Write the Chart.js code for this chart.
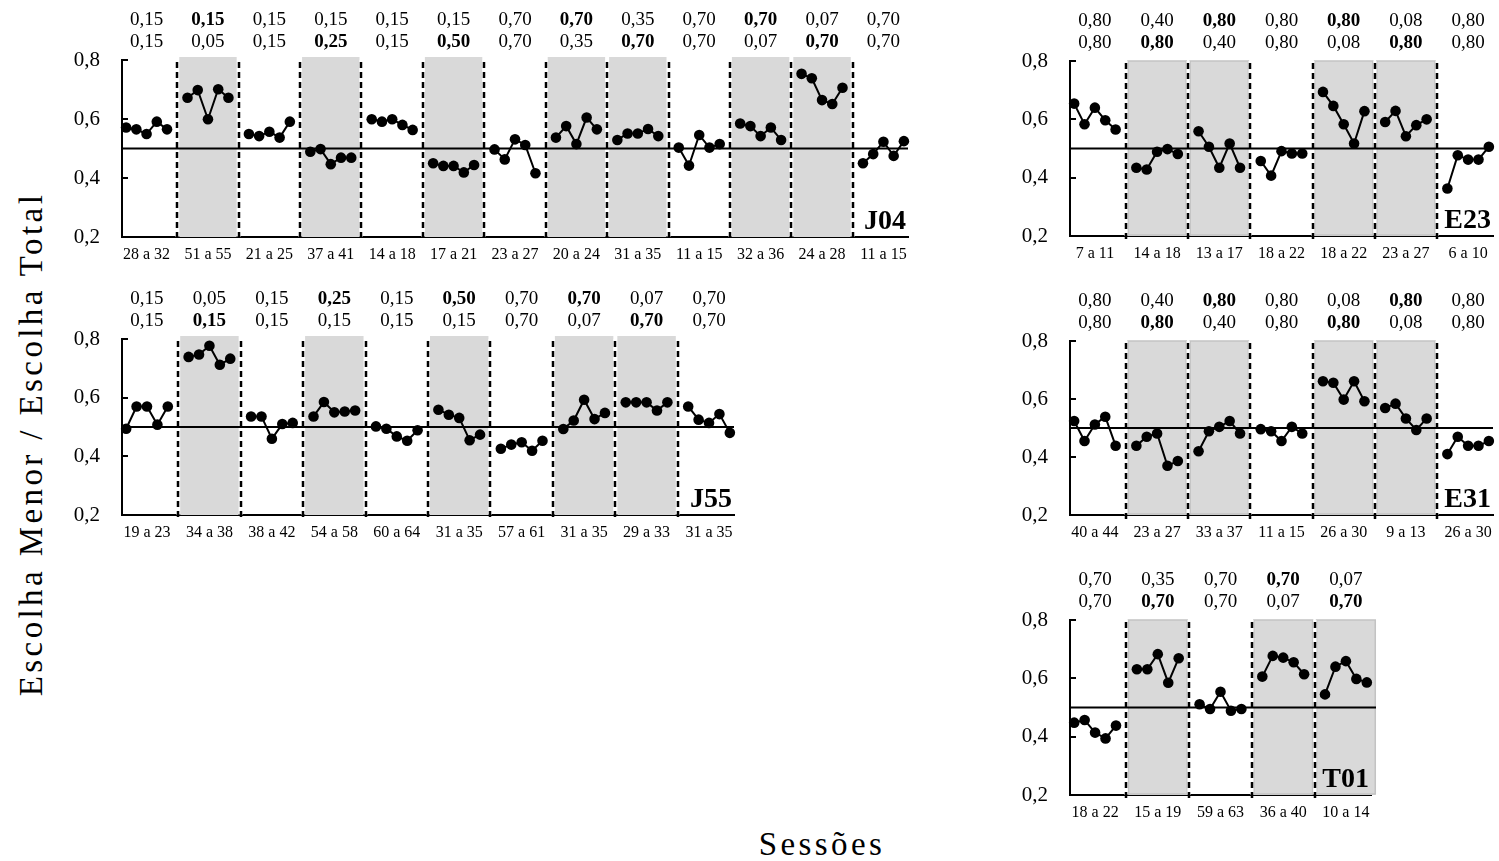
<!DOCTYPE html>
<html>
<head>
<meta charset="utf-8">
<script src="https://cdn.jsdelivr.net/npm/chart.js@4.4.1/dist/chart.umd.min.js"></script>
<style>
  html, body { margin: 0; padding: 0; background: #fff; }
  body { width: 1499px; height: 861px; position: relative; overflow: hidden; font-family: "Liberation Serif", "Times New Roman", serif; }
  canvas { position: absolute; }
  .ytitle { position: absolute; left: 31px; top: 444px; transform: translate(-50%, -50%) rotate(-90deg); white-space: nowrap; font-size: 33px; letter-spacing: 3.4px; color: #000; }
  .xtitle { position: absolute; left: 822px; top: 844px; transform: translate(-50%, -50%); white-space: nowrap; font-size: 33px; letter-spacing: 3.4px; color: #000; }
</style>
</head>
<body>
<canvas id="j04"></canvas>
<canvas id="j55"></canvas>
<canvas id="e23"></canvas>
<canvas id="e31"></canvas>
<canvas id="t01"></canvas>
<div class="ytitle">Escolha Menor / Escolha Total</div>
<div class="xtitle">Sessões</div>

<script>
// ---- J04 ----
const j04Sessions = ["28 a 32", "51 a 55", "21 a 25", "37 a 41", "14 a 18", "17 a 21", "23 a 27", "20 a 24", "31 a 35", "11 a 15", "32 a 36", "24 a 28", "11 a 15"];
const j04Values = [
    [0.571, 0.565, 0.549, 0.591, 0.565],
    [0.672, 0.698, 0.599, 0.701, 0.672],
    [0.549, 0.542, 0.557, 0.537, 0.591],
    [0.489, 0.498, 0.447, 0.469, 0.469],
    [0.599, 0.591, 0.599, 0.580, 0.563],
    [0.450, 0.441, 0.441, 0.419, 0.444],
    [0.497, 0.463, 0.531, 0.512, 0.416],
    [0.537, 0.576, 0.515, 0.605, 0.565],
    [0.529, 0.551, 0.551, 0.566, 0.542],
    [0.503, 0.442, 0.546, 0.503, 0.515],
    [0.585, 0.576, 0.542, 0.571, 0.529],
    [0.753, 0.738, 0.664, 0.651, 0.706],
    [0.450, 0.481, 0.523, 0.475, 0.525]
];
const j04TopA = ["0,15", "0,15", "0,15", "0,15", "0,15", "0,15", "0,70", "0,70", "0,35", "0,70", "0,70", "0,07", "0,70"];
const j04TopB = ["0,15", "0,05", "0,15", "0,25", "0,15", "0,50", "0,70", "0,35", "0,70", "0,70", "0,07", "0,70", "0,70"];
const j04Bold = [0, 1, 0, 2, 0, 2, 0, 1, 2, 0, 1, 2, 0];   // 1 = upper number bold, 2 = lower number bold
const j04Shaded = [0, 1, 0, 1, 0, 1, 0, 1, 1, 0, 1, 1, 0];

// ---- J55 ----
const j55Sessions = ["19 a 23", "34 a 38", "38 a 42", "54 a 58", "60 a 64", "31 a 35", "57 a 61", "31 a 35", "29 a 33", "31 a 35"];
const j55Values = [
    [0.494, 0.570, 0.570, 0.508, 0.570],
    [0.739, 0.747, 0.777, 0.712, 0.733],
    [0.536, 0.536, 0.460, 0.510, 0.514],
    [0.536, 0.585, 0.550, 0.553, 0.556],
    [0.502, 0.494, 0.468, 0.453, 0.489],
    [0.559, 0.542, 0.531, 0.455, 0.474],
    [0.426, 0.440, 0.448, 0.419, 0.453],
    [0.493, 0.522, 0.593, 0.527, 0.548],
    [0.584, 0.584, 0.584, 0.556, 0.584],
    [0.570, 0.525, 0.514, 0.544, 0.480]
];
const j55TopA = ["0,15", "0,05", "0,15", "0,25", "0,15", "0,50", "0,70", "0,70", "0,07", "0,70"];
const j55TopB = ["0,15", "0,15", "0,15", "0,15", "0,15", "0,15", "0,70", "0,07", "0,70", "0,70"];
const j55Bold = [0, 2, 0, 1, 0, 1, 0, 1, 2, 0];
const j55Shaded = [0, 1, 0, 1, 0, 1, 0, 1, 1, 0];

// ---- E23 ----
const e23Sessions = ["7 a 11", "14 a 18", "13 a 17", "18 a 22", "18 a 22", "23 a 27", "6 a 10"];
const e23Values = [
    [0.654, 0.583, 0.640, 0.597, 0.565],
    [0.434, 0.428, 0.489, 0.498, 0.481],
    [0.559, 0.506, 0.434, 0.517, 0.434],
    [0.457, 0.407, 0.491, 0.483, 0.483],
    [0.694, 0.646, 0.583, 0.517, 0.628],
    [0.591, 0.629, 0.542, 0.580, 0.600],
    [0.363, 0.477, 0.462, 0.462, 0.506]
];
const e23TopA = ["0,80", "0,40", "0,80", "0,80", "0,80", "0,08", "0,80"];
const e23TopB = ["0,80", "0,80", "0,40", "0,80", "0,08", "0,80", "0,80"];
const e23Bold = [0, 2, 1, 0, 1, 2, 0];
const e23Shaded = [0, 1, 1, 0, 1, 1, 0];

// ---- E31 ----
const e31Sessions = ["40 a 44", "23 a 27", "33 a 37", "11 a 15", "26 a 30", "9 a 13", "26 a 30"];
const e31Values = [
    [0.524, 0.455, 0.512, 0.539, 0.439],
    [0.439, 0.470, 0.481, 0.370, 0.386],
    [0.420, 0.489, 0.504, 0.524, 0.481],
    [0.496, 0.489, 0.455, 0.504, 0.481],
    [0.661, 0.656, 0.598, 0.661, 0.592],
    [0.569, 0.584, 0.533, 0.493, 0.533],
    [0.410, 0.470, 0.439, 0.439, 0.455]
];
const e31TopA = ["0,80", "0,40", "0,80", "0,80", "0,08", "0,80", "0,80"];
const e31TopB = ["0,80", "0,80", "0,40", "0,80", "0,80", "0,08", "0,80"];
const e31Bold = [0, 2, 1, 0, 2, 1, 0];
const e31Shaded = [0, 1, 1, 0, 1, 1, 0];

// ---- T01 ----
const t01Sessions = ["18 a 22", "15 a 19", "59 a 63", "36 a 40", "10 a 14"];
const t01Values = [
    [0.448, 0.457, 0.414, 0.394, 0.438],
    [0.631, 0.631, 0.683, 0.585, 0.669],
    [0.511, 0.495, 0.554, 0.489, 0.495],
    [0.606, 0.677, 0.671, 0.655, 0.614],
    [0.545, 0.640, 0.659, 0.598, 0.586]
];
const t01TopA = ["0,70", "0,35", "0,70", "0,70", "0,07"];
const t01TopB = ["0,70", "0,70", "0,70", "0,07", "0,70"];
const t01Bold = [0, 2, 0, 1, 2];
const t01Shaded = [0, 1, 0, 1, 1];

const yTicks = [0.2, 0.4, 0.6, 0.8];
const refLevel = 0.5;

const FONT = '"Liberation Serif", "Times New Roman", serif';
const SLOTS = 6; // 5 sessions + 1 gap per block

const panelDecor = {
    id: 'panelDecor',
    beforeDatasetsDraw(chart, args, opts) {
        const p = opts.panel;
        const { ctx, chartArea: a } = chart;
        const x = chart.scales.x, y = chart.scales.y;
        const top = y.getPixelForValue(0.8);
        const bot = y.getPixelForValue(0.2);
        ctx.save();
        p.shaded.forEach((s, g) => {
            if (!s) return;
            const x0 = x.getPixelForValue(g * SLOTS - 1) + 2;
            const x1 = x.getPixelForValue(g * SLOTS + 5) - 2;
            ctx.fillStyle = '#d9d9d9';
            ctx.fillRect(x0, top - p.shadeLift, x1 - x0, bot - top + p.shadeLift);
            if (p.shadeEdge) {
                ctx.strokeStyle = '#c3c3c3';
                ctx.lineWidth = 1.5;
                ctx.strokeRect(x0, top - p.shadeLift, x1 - x0, bot - top + p.shadeLift - 1);
            }
        });
        for (let g = 1; g < p.sessions.length; g++) {
            const xp = Math.round(x.getPixelForValue(g * SLOTS - 1));
            ctx.setLineDash([]);
            ctx.strokeStyle = '#fff';
            ctx.lineWidth = 3;
            ctx.beginPath(); ctx.moveTo(xp, top); ctx.lineTo(xp, bot); ctx.stroke();
            ctx.setLineDash([6, 4]);
            ctx.strokeStyle = '#000';
            ctx.lineWidth = 2.5;
            ctx.beginPath(); ctx.moveTo(xp, top + 2); ctx.lineTo(xp, bot + 4); ctx.stroke();
        }
        ctx.setLineDash([]);
        const yr = y.getPixelForValue(refLevel);
        ctx.strokeStyle = '#000';
        ctx.lineWidth = 2;
        ctx.beginPath(); ctx.moveTo(a.left, yr); ctx.lineTo(a.right + p.refExtra, yr); ctx.stroke();
        ctx.restore();
    },
    afterDraw(chart, args, opts) {
        const p = opts.panel;
        const { ctx, chartArea: a } = chart;
        const x = chart.scales.x, y = chart.scales.y;
        const top = y.getPixelForValue(0.8);
        const bot = y.getPixelForValue(0.2);
        ctx.save();
        ctx.fillStyle = '#000';
        ctx.textAlign = 'center';
        ctx.textBaseline = 'middle';
        p.sessions.forEach((_, g) => {
            const cx = x.getPixelForValue(g * SLOTS + 2);
            ctx.font = (p.bold[g] === 1 ? 'bold ' : '') + '19px ' + FONT;
            ctx.fillText(p.topA[g], cx, top - 40);
            ctx.font = (p.bold[g] === 2 ? 'bold ' : '') + '19px ' + FONT;
            ctx.fillText(p.topB[g], cx, top - 18);
        });
        // inward ticks on the y axis
        ctx.strokeStyle = '#000';
        ctx.lineWidth = 2;
        yTicks.slice(1).forEach(v => {
            const yp = Math.round(y.getPixelForValue(v));
            ctx.beginPath(); ctx.moveTo(a.left, yp); ctx.lineTo(a.left + 6, yp); ctx.stroke();
        });
        ctx.font = 'bold 28px ' + FONT;
        ctx.textAlign = 'right';
        ctx.textBaseline = 'alphabetic';
        ctx.fillText(p.name, a.right - 2, bot - 8);
        ctx.restore();
    }
};

function drawPanel(id, p, box) {
    const el = document.getElementById(id);
    const w = box.R - box.L + 82, h = box.B - box.T + 96;
    el.width = w; el.height = h;
    el.style.left = (box.L - 70) + 'px';
    el.style.top = (box.T - 60) + 'px';
    el.style.width = w + 'px';
    el.style.height = h + 'px';

    const datasets = p.values.map((vals, g) => ({
        data: vals.map((v, i) => ({ x: g * SLOTS + i, y: v })),
        borderColor: '#000',
        backgroundColor: '#000',
        pointBackgroundColor: '#000',
        pointBorderWidth: 0,
        pointRadius: 5.3,
        borderWidth: 2,
        tension: 0,
        clip: false
    }));
    const maxX = p.sessions.length * SLOTS - 2 + 0.4;

    return new Chart(el.getContext('2d'), {
        type: 'line',
        data: { datasets: datasets },
        options: {
            responsive: false, animation: false, events: [],
            layout: { padding: { top: 60, right: 12, bottom: 0, left: 0 } },
            plugins: {
                legend: { display: false },
                tooltip: { enabled: false },
                panelDecor: { panel: p }
            },
            scales: {
                x: {
                    type: 'linear', min: -0.4, max: maxX,
                    grid: { display: true, drawOnChartArea: false, drawTicks: false },
                    border: { display: true, color: '#000', width: 2 },
                    afterBuildTicks: s => { s.ticks = p.sessions.map((_, g) => ({ value: g * SLOTS + 2 })); },
                    afterFit: s => { s.height = 36; },
                    ticks: {
                        autoSkip: false, maxRotation: 0, minRotation: 0, padding: 8,
                        color: '#000', font: { family: FONT, size: 16 },
                        callback: (v, i) => p.sessions[i]
                    }
                },
                y: {
                    min: 0.2, max: 0.8,
                    grid: { display: true, drawOnChartArea: false, drawTicks: false },
                    border: { display: true, color: '#000', width: 2 },
                    afterBuildTicks: s => { s.ticks = yTicks.map(v => ({ value: v })); },
                    afterFit: s => { s.width = 70; },
                    ticks: {
                        padding: 22, color: '#000', font: { family: FONT, size: 21 },
                        callback: v => v.toFixed(1).replace('.', ',')
                    }
                }
            }
        },
        plugins: [panelDecor]
    });
}

drawPanel('j04', { name: 'J04', sessions: j04Sessions, values: j04Values, topA: j04TopA, topB: j04TopB, bold: j04Bold, shaded: j04Shaded, shadeLift: 3, shadeEdge: false, refExtra: 0 },
    { L: 122, R: 908, T: 60, B: 237 });
drawPanel('j55', { name: 'J55', sessions: j55Sessions, values: j55Values, topA: j55TopA, topB: j55TopB, bold: j55Bold, shaded: j55Shaded, shadeLift: 3, shadeEdge: false, refExtra: 0 },
    { L: 122, R: 734, T: 339, B: 515 });
drawPanel('e23', { name: 'E23', sessions: e23Sessions, values: e23Values, topA: e23TopA, topB: e23TopB, bold: e23Bold, shaded: e23Shaded, shadeLift: 0, shadeEdge: true, refExtra: 0 },
    { L: 1070, R: 1493, T: 61, B: 236 });
drawPanel('e31', { name: 'E31', sessions: e31Sessions, values: e31Values, topA: e31TopA, topB: e31TopB, bold: e31Bold, shaded: e31Shaded, shadeLift: 0, shadeEdge: true, refExtra: 0 },
    { L: 1070, R: 1493, T: 341, B: 515 });
drawPanel('t01', { name: 'T01', sessions: t01Sessions, values: t01Values, topA: t01TopA, topB: t01TopB, bold: t01Bold, shaded: t01Shaded, shadeLift: 0, shadeEdge: true, refExtra: 5 },
    { L: 1070, R: 1371, T: 620, B: 795 });
</script>
</body>
</html>
